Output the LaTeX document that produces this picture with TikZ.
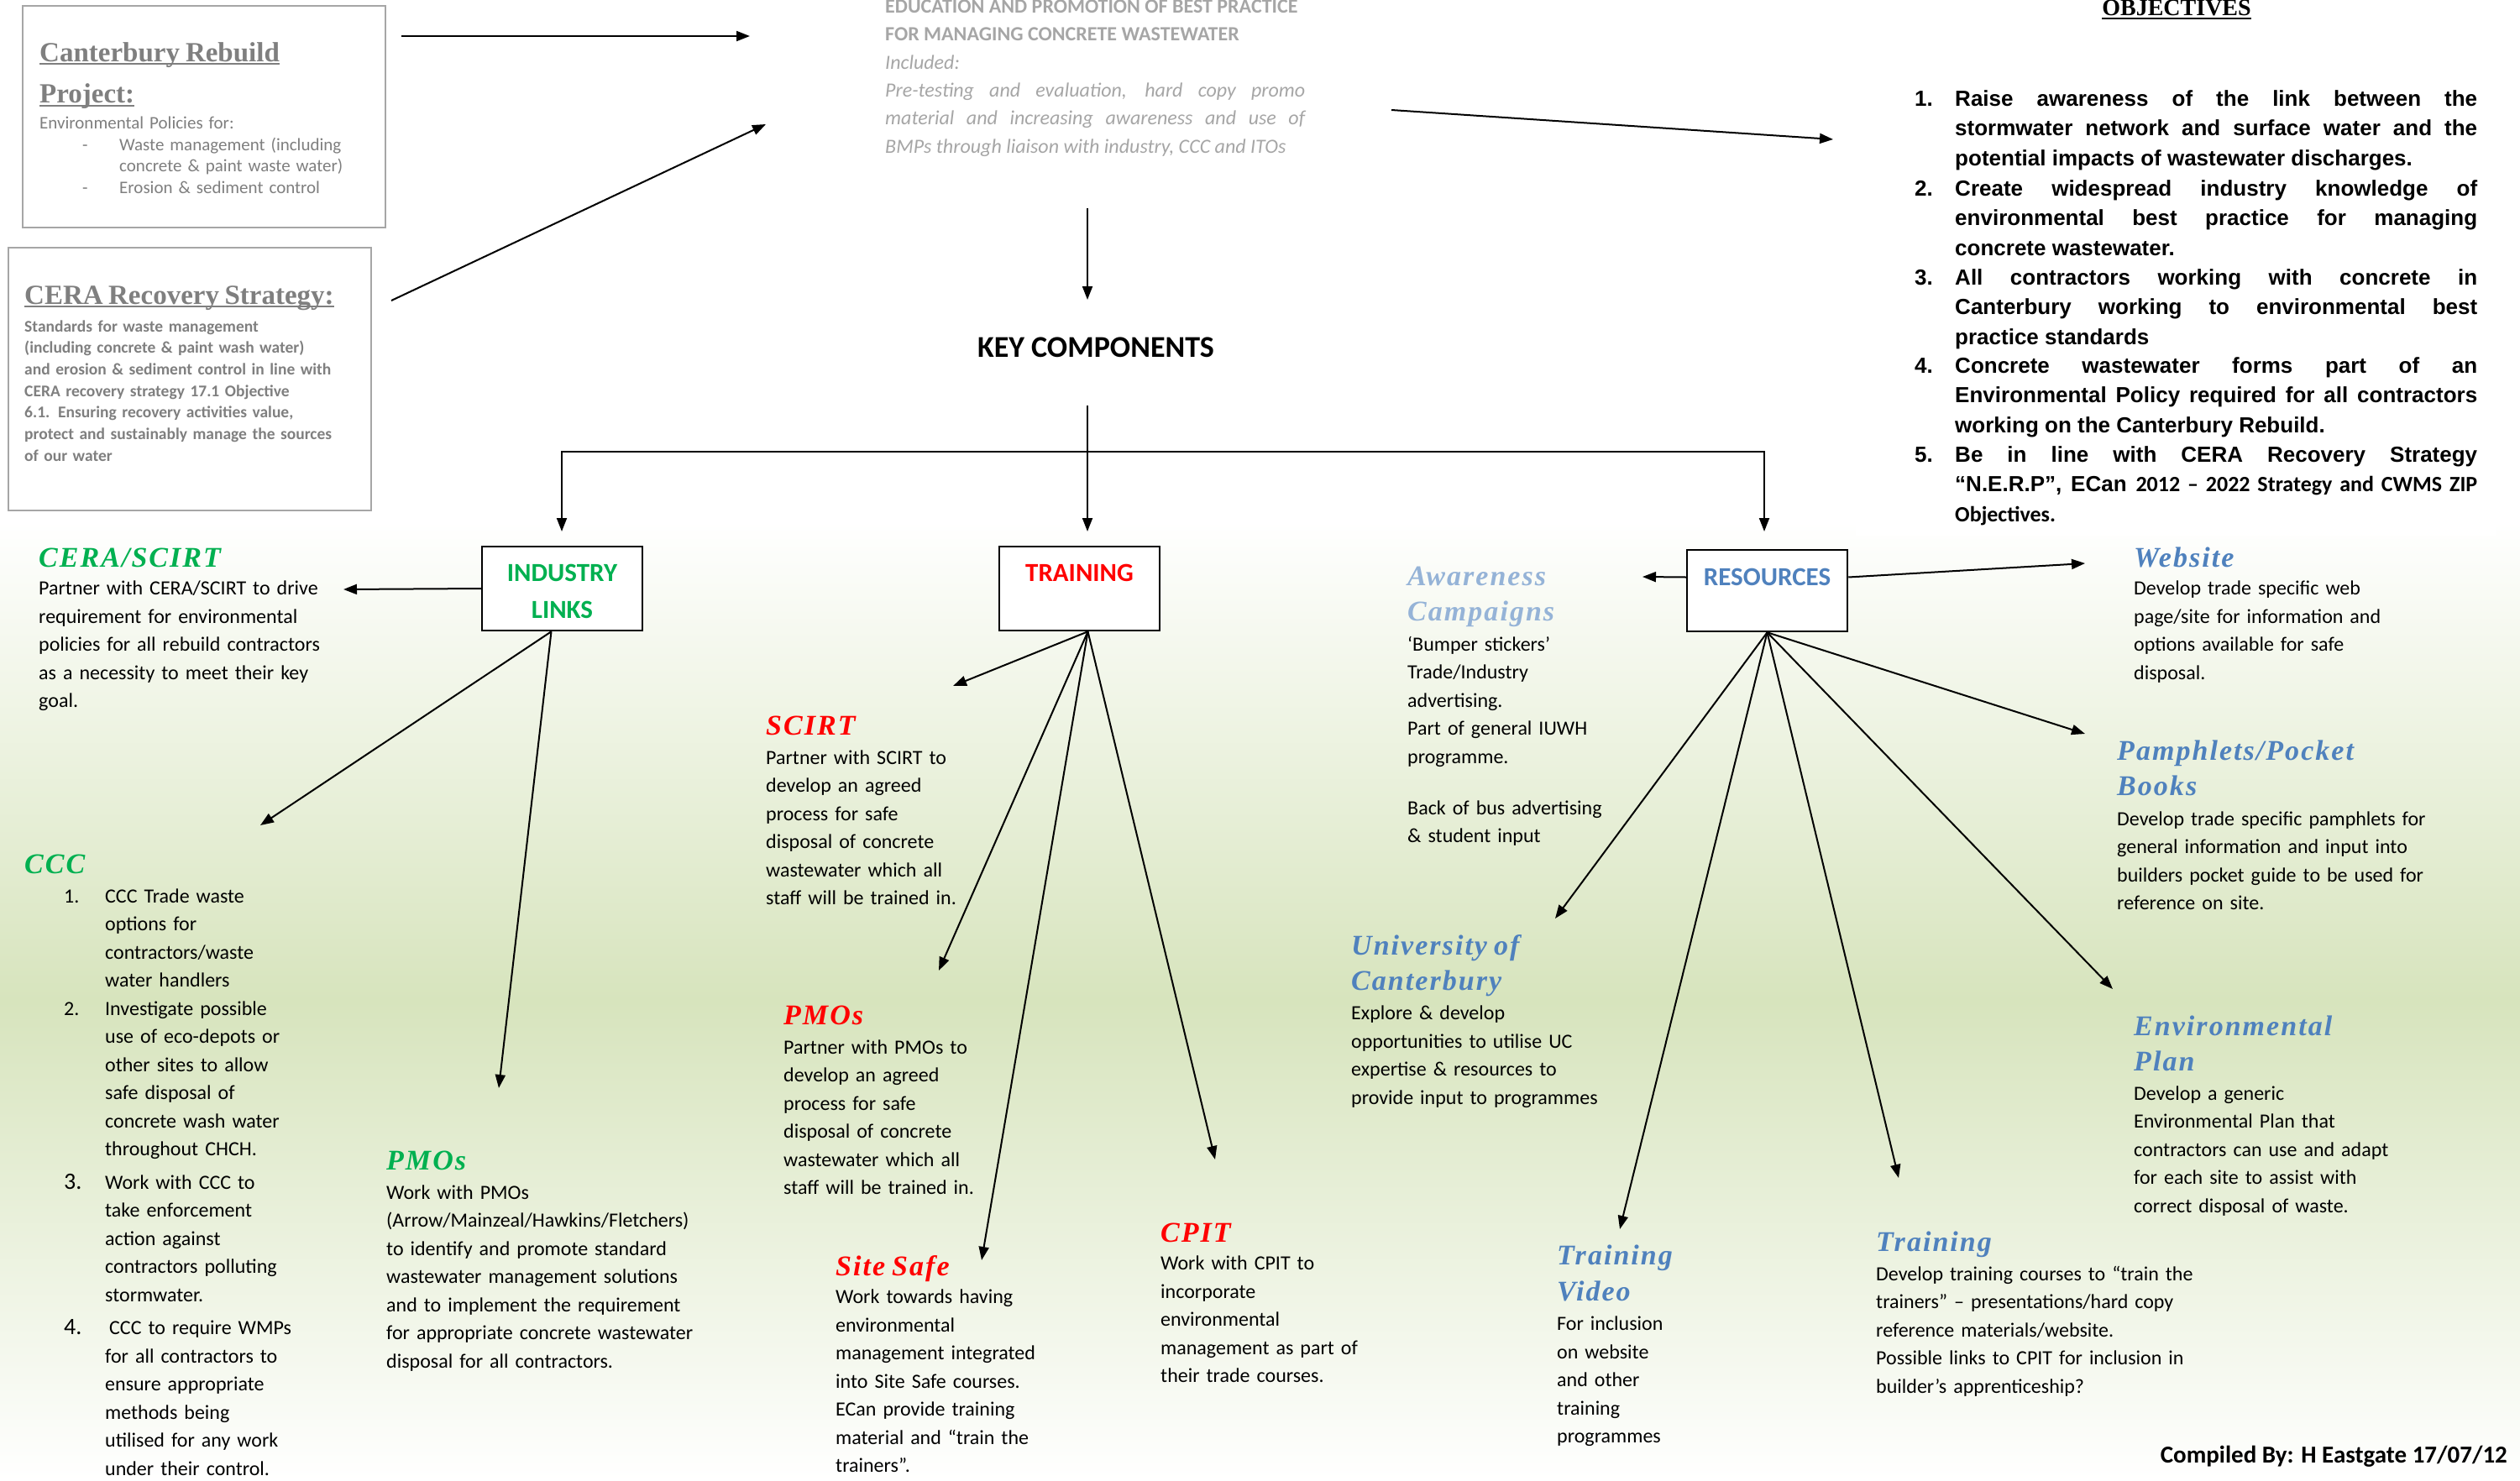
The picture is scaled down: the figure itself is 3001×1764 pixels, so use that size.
\documentclass[tikz,border=0pt]{standalone}
\usepackage{fontspec}
\setmainfont{Carlito}
\newfontfamily\headfont[LetterSpace=6]{Liberation Serif}
\newfontfamily\titlefont{Liberation Serif}
\newfontfamily\objfont{Liberation Sans}
\usetikzlibrary{calc, arrows.meta}
\definecolor{LeafGreen}{HTML}{00B050}
\definecolor{SignalRed}{HTML}{FF0000}
\definecolor{SteelBlue}{HTML}{4F81BD}
\definecolor{PaleBlue}{HTML}{95B3D7}
\definecolor{SlateGrey}{HTML}{7F7F7F}
\definecolor{MistGrey}{HTML}{A6A6A6}
\definecolor{Sage}{HTML}{D7E4BD}
\newsavebox{\ulbox}
\newcommand{\uln}[1]{\leavevmode\sbox{\ulbox}{#1}\rlap{\rule[-4pt]{\wd\ulbox}{2pt}}\usebox{\ulbox}}
\newcommand{\hd}[2]{{\color{#1}\headfont\bfseries\itshape\fontsize{34}{42}\selectfont #2}}
\newcommand{\ttl}[1]{{\titlefont\bfseries\fontsize{33}{44}\selectfont\uln{#1}}}
\newcommand{\itemnum}[1]{\hspace*{47pt}\makebox[49pt][l]{#1}}
\newcommand{\itemgap}{\hspace*{96pt}}

\begin{document}
\begin{tikzpicture}[x=1pt, y=-1pt,
    bodytext/.style={anchor=base west, text width=700pt, align=left, inner sep=0pt, font=\fontsize{24}{33.5}\selectfont},
    keybox/.style={draw, line width=2.5pt, fill=white, minimum width=191pt, minimum height=100pt, inner sep=0pt, align=center, text height=80pt, text depth=10pt, font=\bfseries\fontsize{31}{44}\selectfont},
    greybox/.style={draw=MistGrey, line width=2pt, anchor=north west, inner sep=0pt},
    arrowline/.style={line width=2pt, -{Triangle[length=16pt, width=12pt]}},
    objtext/.style={anchor=base west, inner sep=0pt, text width=622pt, align=justify, font=\objfont\bfseries\fontsize{26}{35.6}\selectfont},
    objnum/.style={anchor=base west, inner sep=0pt, font=\objfont\bfseries\fontsize{26}{35.6}\selectfont}]

    \useasboundingbox (0,0) rectangle (3001,1764);
    \fill[white] (0,0) rectangle (3001,1764);
    \shade[top color=white, bottom color=white, middle color=Sage] (0,620) rectangle (3001,1764);
    \fill[white] (2210,0) rectangle (2973,638);

    \node[greybox, minimum width=432pt, minimum height=264pt] (cr) at (26,6) {};
    \node[greybox, minimum width=432pt, minimum height=313pt] (cs) at (9,294) {};
    \node[bodytext, text=SlateGrey, font=\fontsize{21}{25.5}\selectfont] (crt) at (47,73) {\ttl{Canterbury Rebuild}\\[18.5pt]\ttl{Project:}\\[5.5pt]Environmental Policies for:\\\hspace*{51pt}\makebox[44pt][l]{-}Waste management (including\\\hspace*{95pt}concrete \& paint waste water)\\\hspace*{51pt}\makebox[44pt][l]{-}Erosion \& sediment control};
    \node[bodytext, text=SlateGrey, font=\bfseries\fontsize{19.5}{25.7}\selectfont] (cst) at (29,362) {\ttl{CERA Recovery Strategy:}\\[7.3pt]Standards for waste management\\(including concrete \& paint wash water)\\and erosion \& sediment control in line with\\CERA recovery strategy 17.1 Objective\\6.1. Ensuring recovery activities value,\\protect and sustainably manage the sources\\of our water};

    \node[anchor=base west, inner sep=0pt, text width=500pt, align=justify, text=MistGrey, font=\fontsize{24}{33.5}\selectfont] (edu) at (1054,15) {\mbox{\bfseries EDUCATION AND PROMOTION OF BEST PRACTICE}\\\mbox{\bfseries FOR MANAGING CONCRETE WASTEWATER}\\\textit{Included:}\\\itshape Pre-testing and evaluation, hard copy promo\linebreak material and increasing awareness and use of\linebreak BMPs through liaison with industry, CCC and ITOs};

    \node[anchor=base, inner sep=0pt, font=\titlefont\bfseries\fontsize{28}{30}\selectfont] (obj) at (2592,19) {\uln{OBJECTIVES}};
    \node[objnum] (n1) at (2280,126) {1.};
    \node[objnum] (n2) at (2280,233) {2.};
    \node[objnum] (n3) at (2280,339) {3.};
    \node[objnum] (n4) at (2280,444) {4.};
    \node[objnum] (n5) at (2280,550) {5.};
    \node[objtext] (o1) at (2328,126) {Raise awareness of the link between the\linebreak stormwater network and surface water and the\linebreak potential impacts of wastewater discharges.};
    \node[objtext] (o2) at (2328,233) {Create widespread industry knowledge of\linebreak environmental best practice for managing\linebreak concrete wastewater.};
    \node[objtext] (o3) at (2328,339) {All contractors working with concrete in\linebreak Canterbury working to environmental best\linebreak practice standards};
    \node[objtext] (o4) at (2328,444) {Concrete wastewater forms part of an\linebreak Environmental Policy required for all contractors\linebreak working on the Canterbury Rebuild.};
    \node[objtext] (o5) at (2328,550) {Be in line with CERA Recovery Strategy\linebreak “N.E.R.P”, ECan {\normalfont\bfseries 2012 – 2022 Strategy and CWMS ZIP}\linebreak {\normalfont\bfseries Objectives.}};

    \node[anchor=base, inner sep=0pt, font=\bfseries\fontsize{36}{40}\selectfont] (kc) at (1305,425) {KEY COMPONENTS};

    \node[keybox, text=LeafGreen] (il) at (669.5,701) {INDUSTRY\\LINKS};
    \node[keybox, text=SignalRed] (tr) at (1285.5,701) {TRAINING\\~};
    \node[keybox, text=SteelBlue, minimum height=97pt, text height=85pt] (rs) at (2104.5,703.5) {RESOURCES\\~};

    \node[bodytext] (cera) at (46,675) {\hd{LeafGreen}{CERA/SCIRT}\\Partner with CERA/SCIRT to drive\\requirement for environmental\\policies for all rebuild contractors\\as a necessity to meet their key\\goal.};
    \node[bodytext] (ccc) at (29,1040) {\hd{LeafGreen}{CCC}\\[1.5pt]
        \itemnum{1.}CCC Trade waste\\\itemgap options for\\\itemgap contractors/waste\\\itemgap water handlers\\
        \itemnum{2.}Investigate possible\\\itemgap use of eco-depots or\\\itemgap other sites to allow\\\itemgap safe disposal of\\\itemgap concrete wash water\\\itemgap throughout CHCH.\\[6pt]
        \itemnum{\fontsize{28}{30}\selectfont 3.}Work with CCC to\\\itemgap take enforcement\\\itemgap action against\\\itemgap contractors polluting\\\itemgap stormwater.\\[6pt]
        \itemnum{\fontsize{28}{30}\selectfont 4.}\hspace*{5pt}CCC to require WMPs\\\itemgap for all contractors to\\\itemgap ensure appropriate\\\itemgap methods being\\\itemgap utilised for any work\\\itemgap under their control.};
    \node[bodytext] (pmog) at (460,1393) {\hd{LeafGreen}{PMOs}\\[1.5pt]Work with PMOs\\(Arrow/Mainzeal/Hawkins/Fletchers)\\to identify and promote standard\\wastewater management solutions\\and to implement the requirement\\for appropriate concrete wastewater\\disposal for all contractors.};

    \node[bodytext] (scirt) at (912,875) {\hd{SignalRed}{SCIRT}\\[1.5pt]Partner with SCIRT to\\develop an agreed\\process for safe\\disposal of concrete\\wastewater which all\\staff will be trained in.};
    \node[bodytext] (pmor) at (933,1220) {\hd{SignalRed}{PMOs}\\[1.5pt]Partner with PMOs to\\develop an agreed\\process for safe\\disposal of concrete\\wastewater which all\\staff will be trained in.};
    \node[bodytext] (site) at (995,1519) {\hd{SignalRed}{Site Safe}\\Work towards having\\environmental\\management integrated\\into Site Safe courses.\\ECan provide training\\material and “train the\\trainers”.};
    \node[bodytext] (cpit) at (1382,1479) {\hd{SignalRed}{CPIT}\\Work with CPIT to\\incorporate\\environmental\\management as part of\\their trade courses.};

    \node[bodytext] (aware) at (1676,697) {\hd{PaleBlue}{Awareness}\\[8.5pt]\hd{PaleBlue}{Campaigns}\\[2.5pt]‘Bumper stickers’\\Trade/Industry\\advertising.\\Part of general IUWH\\programme.\\[27.5pt]Back of bus advertising\\\& student input};
    \node[bodytext] (uc) at (1609,1137) {\hd{SteelBlue}{University of}\\[9pt]\hd{SteelBlue}{Canterbury}\\[1.5pt]Explore \& develop\\opportunities to utilise UC\\expertise \& resources to\\provide input to programmes};
    \node[bodytext] (tv) at (1854,1506) {\hd{SteelBlue}{Training}\\[10pt]\hd{SteelBlue}{Video}\\[1.5pt]For inclusion\\on website\\and other\\training\\programmes};
    \node[bodytext] (trn) at (2234,1490) {\hd{SteelBlue}{Training}\\[1.5pt]Develop training courses to “train the\\trainers” – presentations/hard copy\\reference materials/website.\\Possible links to CPIT for inclusion in\\builder’s apprenticeship?};
    \node[bodytext] (web) at (2541,675) {\hd{SteelBlue}{Website}\\Develop trade specific web\\page/site for information and\\options available for safe\\disposal.};
    \node[bodytext] (pam) at (2521,905) {\hd{SteelBlue}{Pamphlets/Pocket}\\[8.5pt]\hd{SteelBlue}{Books}\\[2.5pt]Develop trade specific pamphlets for\\general information and input into\\builders pocket guide to be used for\\reference on site.};
    \node[bodytext] (env) at (2541,1233) {\hd{SteelBlue}{Environmental}\\[8.5pt]\hd{SteelBlue}{Plan}\\[1.5pt]Develop a generic\\Environmental Plan that\\contractors can use and adapt\\for each site to assist with\\correct disposal of waste.};

    \node[anchor=base east, inner sep=0pt, font=\bfseries\fontsize{29}{32}\selectfont] (comp) at (2986,1742) {Compiled By: H Eastgate 17/07/12};

    \coordinate (crOut) at ($(cr.north east)+(18,37)$);
    \coordinate (csOut) at ($(cs.north east)+(23,64)$);
    \coordinate (eduIn) at (893,43);
    \coordinate (eduIn2) at (912,148);
    \coordinate (eduOut) at (1657,131);
    \coordinate (objIn) at (2183,166);
    \coordinate (eduDown) at (1295,248);
    \coordinate (kcIn) at (1295,357);
    \coordinate (kcOut) at (1295,483);
    \coordinate (hub) at (1295,538);
    \coordinate (ilTop) at (669,633);
    \coordinate (trTop) at (1295,633);
    \coordinate (rsTop) at (2101,633);
    \coordinate (ceraTip) at (409,702);
    \coordinate (cccTip) at (310,983);
    \coordinate (pmogTip) at (594,1296);
    \coordinate (scirtTip) at (1135,817);
    \coordinate (pmorTip) at (1118,1156);
    \coordinate (siteTip) at (1169,1501);
    \coordinate (cpitTip) at (1447,1381);
    \coordinate (awareTip) at (1956,687);
    \coordinate (webTip) at (2483,671);
    \coordinate (pamTip) at (2483,874);
    \coordinate (envTip) at (2516,1178);
    \coordinate (trnTip) at (2261,1403);
    \coordinate (tvTip) at (1929,1464);
    \coordinate (ucTip) at (1852,1094);

    \draw[arrowline] (crOut) -- (eduIn);
    \draw[arrowline] (csOut) -- (eduIn2);
    \draw[arrowline] (eduOut) -- (objIn);
    \draw[arrowline] (eduDown) -- (kcIn);
    \draw[line width=2pt] (kcOut) -- (hub);
    \draw[arrowline] (hub) -| (ilTop);
    \draw[arrowline] (hub) -| (rsTop);
    \draw[arrowline] (hub) -- (trTop);

    \draw[arrowline] (il.west) -- (ceraTip);
    \draw[arrowline] ([xshift=-13pt]il.south) -- (cccTip);
    \draw[arrowline] ([xshift=-13pt]il.south) -- (pmogTip);

    \draw[arrowline] ([xshift=10pt]tr.south) -- (scirtTip);
    \draw[arrowline] ([xshift=10pt]tr.south) -- (pmorTip);
    \draw[arrowline] ([xshift=10pt]tr.south) -- (siteTip);
    \draw[arrowline] ([xshift=10pt]tr.south) -- (cpitTip);

    \draw[arrowline] ([yshift=16pt]rs.west) -- (awareTip);
    \draw[arrowline] ([yshift=16pt]rs.east) -- (webTip);
    \draw[arrowline] (rs.south) -- (pamTip);
    \draw[arrowline] (rs.south) -- (envTip);
    \draw[arrowline] (rs.south) -- (trnTip);
    \draw[arrowline] (rs.south) -- (tvTip);
    \draw[arrowline] (rs.south) -- (ucTip);
\end{tikzpicture}
\end{document}
